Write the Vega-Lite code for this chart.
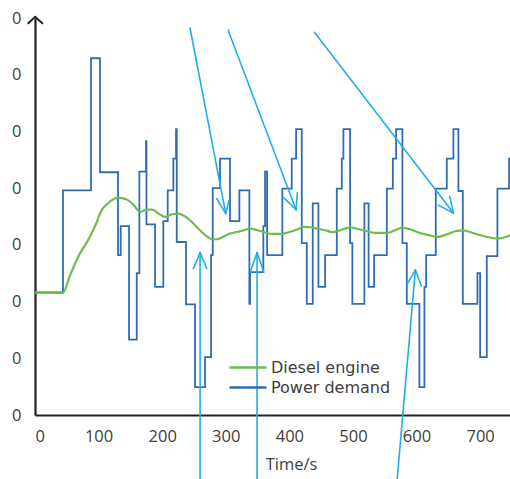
{
  "$schema": "https://vega.github.io/schema/vega-lite/v6.json",
  "width": 475,
  "height": 397,
  "autosize": {"type": "none"},
  "padding": {"left": 35, "top": 18, "right": 0, "bottom": 64},
  "background": "white",
  "config": {
    "view": {"stroke": null},
    "font": "Open Sans",
    "axis": {
      "grid": false,
      "ticks": false,
      "domainColor": "#222222",
      "domainWidth": 2.2,
      "labelFont": "Open Sans",
      "labelFontSize": 16.5,
      "labelColor": "#404040",
      "titleFont": "Open Sans",
      "titleFontSize": 16.5,
      "titleColor": "#404040",
      "titleFontWeight": "normal"
    }
  },
  "datasets": {
    "power": [
      {"t": 0, "v": 21.6}, {"t": 44.0, "v": 39.6}, {"t": 88.1, "v": 62.9}, {"t": 102.2, "v": 42.8},
      {"t": 130.6, "v": 28.2}, {"t": 134.8, "v": 33.3}, {"t": 147.9, "v": 13.3}, {"t": 160.0, "v": 25.0},
      {"t": 164.1, "v": 42.9}, {"t": 174.6, "v": 48.3}, {"t": 175.3, "v": 33.6}, {"t": 188.8, "v": 22.6},
      {"t": 201.8, "v": 34.2}, {"t": 208.7, "v": 39.6}, {"t": 217.6, "v": 45.2}, {"t": 221.8, "v": 50.4},
      {"t": 222.9, "v": 30.5}, {"t": 237.5, "v": 19.5}, {"t": 251.7, "v": 4.9}, {"t": 267.4, "v": 10.2},
      {"t": 276.9, "v": 28.2}, {"t": 279.5, "v": 40.0}, {"t": 291.0, "v": 45.2}, {"t": 306.7, "v": 34.2},
      {"t": 321.4, "v": 39.6}, {"t": 337.1, "v": 19.6}, {"t": 338.2, "v": 25.2}, {"t": 359.1, "v": 33.3},
      {"t": 361.8, "v": 42.9}, {"t": 365.0, "v": 28.2}, {"t": 389.0, "v": 39.9}, {"t": 403.8, "v": 45.2},
      {"t": 410.6, "v": 50.4}, {"t": 419.5, "v": 30.3}, {"t": 427.4, "v": 19.6}, {"t": 436.8, "v": 37.3},
      {"t": 445.7, "v": 22.6}, {"t": 456.2, "v": 28.2}, {"t": 474.6, "v": 39.9}, {"t": 482.5, "v": 45.2},
      {"t": 485.0, "v": 50.4}, {"t": 495.5, "v": 30.3}, {"t": 499.1, "v": 19.6}, {"t": 518.0, "v": 37.3},
      {"t": 524.6, "v": 22.6}, {"t": 533.3, "v": 28.2}, {"t": 553.3, "v": 39.9}, {"t": 562.7, "v": 45.2},
      {"t": 567.9, "v": 50.4}, {"t": 577.8, "v": 30.3}, {"t": 584.7, "v": 19.6}, {"t": 604.5, "v": 4.9},
      {"t": 612.4, "v": 22.6}, {"t": 615.1, "v": 28.2}, {"t": 630.3, "v": 39.9}, {"t": 647.6, "v": 45.2},
      {"t": 658.0, "v": 50.4}, {"t": 665.9, "v": 39.5}, {"t": 672.8, "v": 19.6}, {"t": 695.8, "v": 25.0},
      {"t": 700.0, "v": 10.2}, {"t": 710.5, "v": 28.0}, {"t": 727.2, "v": 39.9}, {"t": 745.6, "v": 45.2},
      {"t": 747, "v": 45.2}
    ],
    "diesel": [
      {"t": 0, "v": 21.57}, {"t": 44.0, "v": 21.57}, {"t": 55.1, "v": 24.63}, {"t": 70.8, "v": 28.51},
      {"t": 83.4, "v": 30.81}, {"t": 97.1, "v": 33.99}, {"t": 102.2, "v": 35.58}, {"t": 114.8, "v": 37.34},
      {"t": 130.6, "v": 38.28}, {"t": 143.2, "v": 38.05}, {"t": 154.2, "v": 37.16}, {"t": 165.2, "v": 35.8},
      {"t": 174.6, "v": 36.19}, {"t": 184.0, "v": 36.23}, {"t": 193.5, "v": 35.58}, {"t": 204.5, "v": 34.92},
      {"t": 215.5, "v": 35.4}, {"t": 224.9, "v": 35.52}, {"t": 234.4, "v": 35.13}, {"t": 243.8, "v": 34.34},
      {"t": 254.8, "v": 33.1}, {"t": 264.3, "v": 32.04}, {"t": 272.1, "v": 31.34}, {"t": 278.4, "v": 30.99},
      {"t": 286.3, "v": 30.99}, {"t": 295.7, "v": 31.43}, {"t": 306.7, "v": 31.99}, {"t": 319.3, "v": 32.31},
      {"t": 328.8, "v": 32.57}, {"t": 338.2, "v": 32.87}, {"t": 347.6, "v": 32.66}, {"t": 358.6, "v": 32.27},
      {"t": 369.7, "v": 31.96}, {"t": 385.4, "v": 31.92}, {"t": 396.4, "v": 32.13}, {"t": 412.1, "v": 32.7},
      {"t": 423.2, "v": 33.16}, {"t": 432.6, "v": 33.1}, {"t": 445.2, "v": 32.84}, {"t": 456.2, "v": 32.57},
      {"t": 468.8, "v": 32.22}, {"t": 479.8, "v": 32.57}, {"t": 495.5, "v": 33.1}, {"t": 506.5, "v": 32.84},
      {"t": 519.1, "v": 32.49}, {"t": 534.8, "v": 32.13}, {"t": 553.7, "v": 32.13}, {"t": 566.3, "v": 32.57},
      {"t": 577.3, "v": 33.05}, {"t": 589.9, "v": 32.75}, {"t": 600.9, "v": 32.27}, {"t": 616.6, "v": 31.78},
      {"t": 632.4, "v": 31.39}, {"t": 648.1, "v": 31.87}, {"t": 660.7, "v": 32.4}, {"t": 673.3, "v": 32.57},
      {"t": 687.4, "v": 32.13}, {"t": 703.2, "v": 31.6}, {"t": 717.3, "v": 31.25}, {"t": 726.8, "v": 31.11},
      {"t": 739.4, "v": 31.34}, {"t": 747, "v": 31.69}
    ],
    "arrows": [
      {"t": 243.8, "v": 68.24, "t2": 300.0, "v2": 35.52},
      {"t": 285.8, "v": 38.17, "t2": 300.0, "v2": 35.52},
      {"t": 305.2, "v": 37.87, "t2": 300.0, "v2": 35.52},
      {"t": 303.6, "v": 67.89, "t2": 410.6, "v2": 36.19},
      {"t": 412.6, "v": 39.2, "t2": 410.6, "v2": 36.19},
      {"t": 391.4, "v": 38.29, "t2": 410.6, "v2": 36.19},
      {"t": 439.4, "v": 67.48, "t2": 658.0, "v2": 35.63},
      {"t": 652.2, "v": 38.56, "t2": 658.0, "v2": 35.63},
      {"t": 634.3, "v": 37.01, "t2": 658.0, "v2": 35.63},
      {"t": 259.6, "v": -11.4, "t2": 259.6, "v2": 28.64},
      {"t": 249.0, "v": 25.81, "t2": 259.6, "v2": 28.64},
      {"t": 270.1, "v": 25.81, "t2": 259.6, "v2": 28.64},
      {"t": 349.2, "v": -11.4, "t2": 349.2, "v2": 28.64},
      {"t": 338.7, "v": 25.21, "t2": 349.2, "v2": 28.64},
      {"t": 359.8, "v": 25.21, "t2": 349.2, "v2": 28.64},
      {"t": 569.5, "v": -11.4, "t2": 598.2, "v2": 25.6},
      {"t": 584.8, "v": 23.0, "t2": 598.2, "v2": 25.6},
      {"t": 607.4, "v": 22.78, "t2": 598.2, "v2": 25.6}
    ],
    "axisArrow": [
      {"t": -10.5, "v": 69.07, "t2": 0, "v2": 70.2},
      {"t": 11.5, "v": 69.07, "t2": 0, "v2": 70.2}
    ]
  },
  "layer": [
    {
      "data": {"name": "power"},
      "transform": [{"calculate": "'Power demand'", "as": "series"}],
      "mark": {"type": "line", "interpolate": "step-after", "strokeWidth": 1.8},
      "encoding": {
        "x": {
          "field": "t", "type": "quantitative",
          "scale": {"domain": [0, 747], "nice": false},
          "axis": {
            "values": [0, 100, 200, 300, 400, 500, 600, 700],
            "title": "Time/s",
            "labelPadding": 13,
            "titleX": 256,
            "titleY": 54,
            "titleBaseline": "alphabetic",
            "titleAlign": "center"
          }
        },
        "y": {
          "field": "v", "type": "quantitative",
          "scale": {"domain": [0, 70], "nice": false},
          "axis": {
            "values": [0, 10, 20, 30, 40, 50, 60, 70],
            "labelExpr": "'0'",
            "labelPadding": 14,
            "title": null
          }
        },
        "color": {
          "field": "series", "type": "nominal",
          "scale": {"domain": ["Diesel engine", "Power demand"], "range": ["#6cbd4b", "#2f6db3"]},
          "legend": {
            "title": null,
            "orient": "none",
            "legendX": 193,
            "legendY": 340,
            "symbolType": "stroke",
            "symbolSize": 1369,
            "symbolStrokeWidth": 2.5,
            "clipHeight": 19,
            "rowPadding": 1,
            "padding": 0,
            "labelOffset": 3,
            "labelFont": "DejaVu Sans",
            "labelFontSize": 16,
            "labelColor": "#404040"
          }
        }
      }
    },
    {
      "data": {"name": "diesel"},
      "transform": [{"calculate": "'Diesel engine'", "as": "series"}],
      "mark": {"type": "line", "interpolate": "monotone", "strokeWidth": 2.2},
      "encoding": {
        "x": {"field": "t", "type": "quantitative"},
        "y": {"field": "v", "type": "quantitative"},
        "color": {"field": "series", "type": "nominal"}
      }
    },
    {
      "data": {"name": "arrows"},
      "mark": {"type": "rule", "color": "#22aee6", "strokeWidth": 1.6, "strokeCap": "round"},
      "encoding": {
        "x": {"field": "t", "type": "quantitative"},
        "y": {"field": "v", "type": "quantitative"},
        "x2": {"field": "t2"},
        "y2": {"field": "v2"}
      }
    },
    {
      "data": {"name": "axisArrow"},
      "mark": {"type": "rule", "color": "#222222", "strokeWidth": 2, "strokeCap": "round"},
      "encoding": {
        "x": {"field": "t", "type": "quantitative"},
        "y": {"field": "v", "type": "quantitative"},
        "x2": {"field": "t2"},
        "y2": {"field": "v2"}
      }
    }
  ]
}
